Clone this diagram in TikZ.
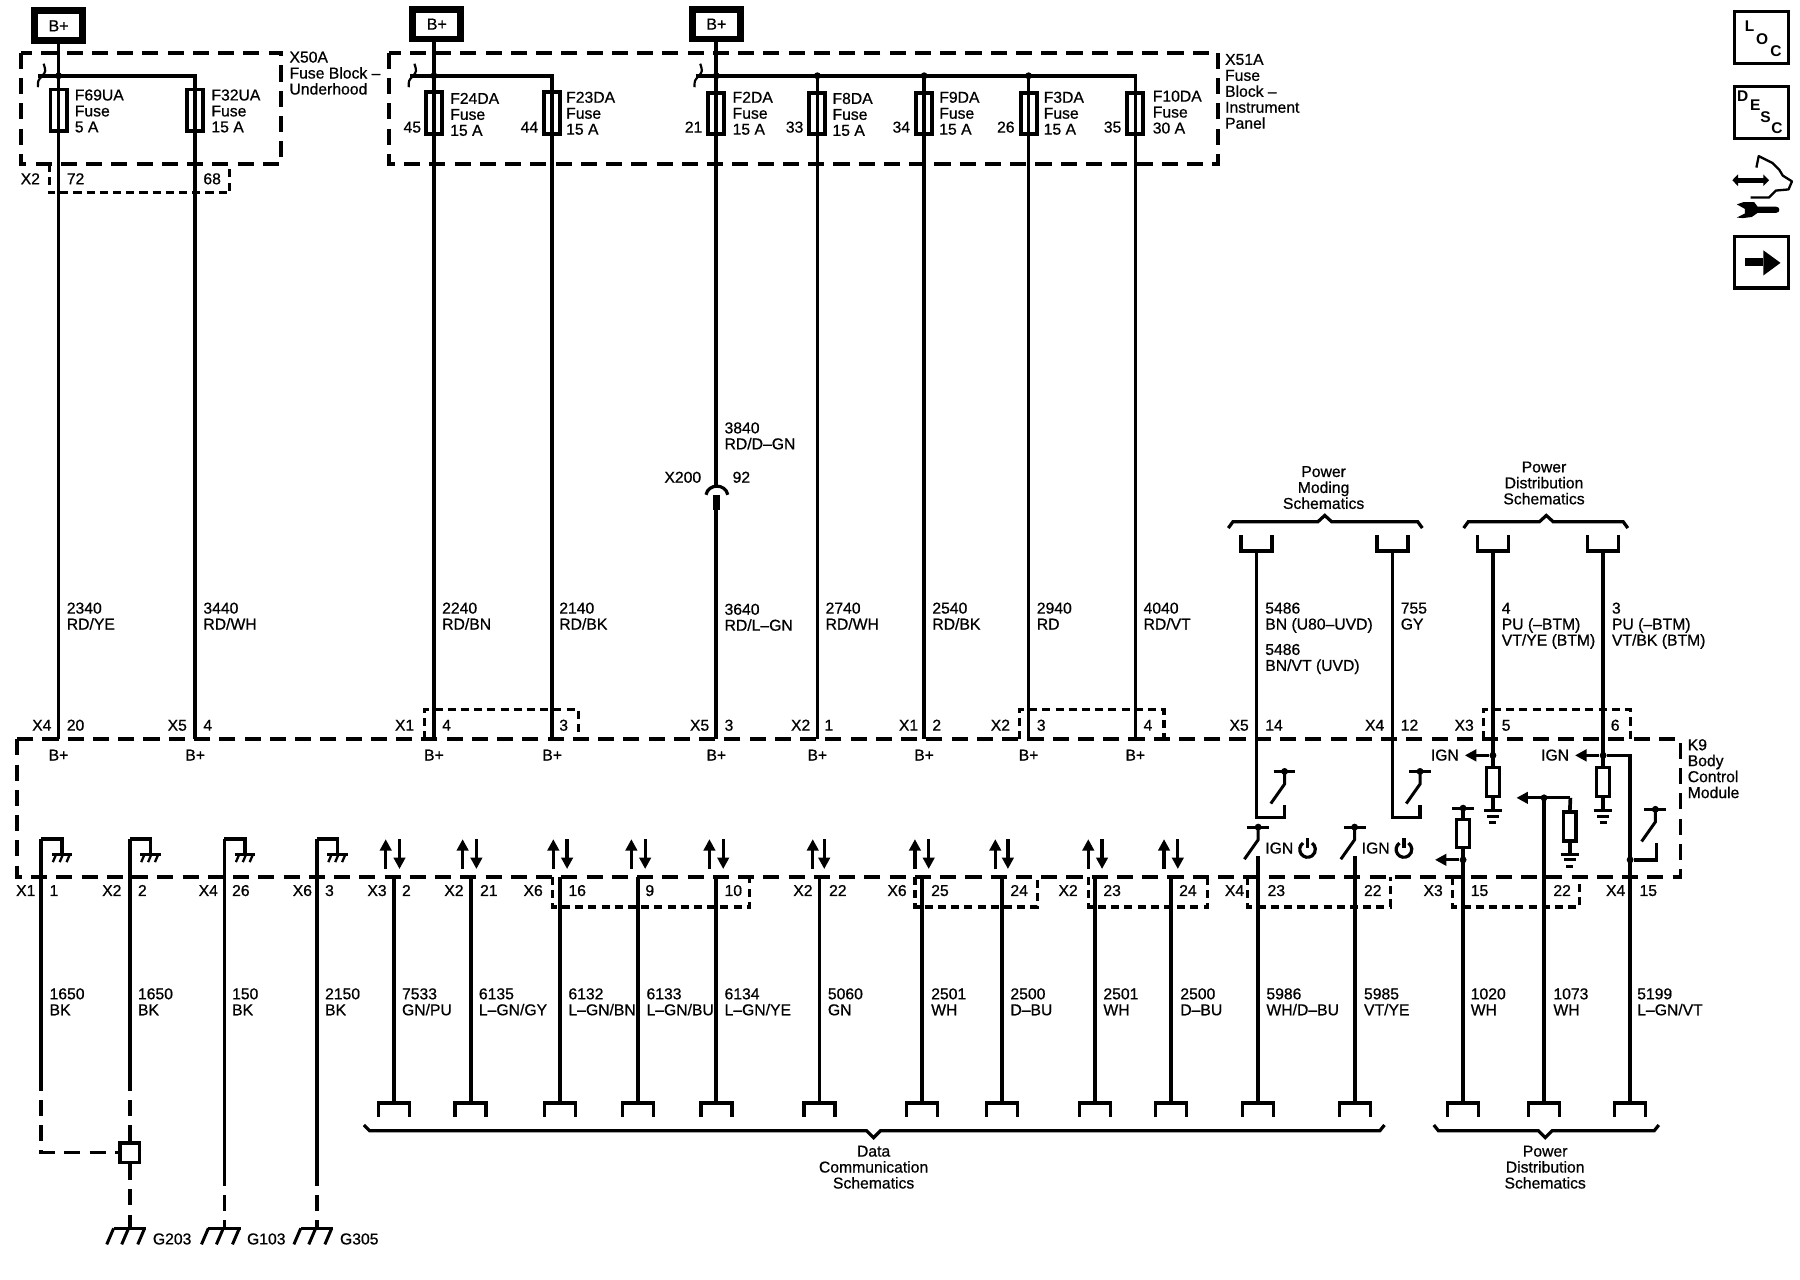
\documentclass[tikz,border=0pt]{standalone}
\usepackage{fontspec}
\setmainfont{Liberation Sans}
\newfontfamily\lblfont[FakeBold=0.7]{Liberation Sans}
\usetikzlibrary{arrows.meta}
\newcount\tcnt
\tikzset{
  wire/.style={line width=3.2pt,line join=miter},
  fblock/.style={line width=3.2pt,dash pattern=on 14pt off 8pt},
  gdash/.style={line width=3.2pt,dash pattern=on 14pt off 8pt},
  conn/.style={line width=2.8pt,dash pattern=on 7pt off 4.5pt},
  tl/.style={anchor=north west},
  tr/.style={anchor=north east},
  tc/.style={anchor=north},
  lab/.style={inner sep=0pt,font=\lblfont\fontsize{13.7}{13.9}\selectfont,align=left},
  labc/.style={inner sep=0pt,font=\lblfont\fontsize{13.7}{13.9}\selectfont,align=center},
  bpbox/.style={draw,line width=6pt,minimum width=42pt,minimum height=26pt,inner sep=0pt,font=\lblfont\fontsize{14}{14}\selectfont,fill=white},
  fuse/.style={draw,line width=3.4pt,minimum width=14pt,minimum height=36pt,inner sep=0pt},
  resistor/.style={draw,line width=2.5pt,minimum width=11pt,minimum height=25pt,inner sep=0pt,fill=white},
  dotn/.style={circle,fill=black,inner sep=0pt,minimum size=6pt},
  iconbox/.style={draw,line width=3pt,minimum width=47pt,minimum height=45pt,inner sep=0pt},
  arr/.style={line width=2.8pt,-{Triangle[length=10pt,width=10pt]}},
}
% text helpers: x, y = centre of the first line's capitals
\newcommand\lblL[3]{\global\advance\tcnt by 1\relax\node[lab,tl] (t\the\tcnt) at (#1,#2-5.7) {\rule{0pt}{10pt}#3};}
\newcommand\lblR[3]{\global\advance\tcnt by 1\relax\node[lab,tr] (t\the\tcnt) at (#1,#2-5.7) {\rule{0pt}{10pt}#3};}
\newcommand\lblC[3]{\global\advance\tcnt by 1\relax\node[labc,tc] (t\the\tcnt) at (#1,#2-5.7) {\rule{0pt}{10pt}#3};}
\newcommand\gndhatch[2]{\draw[line width=2.6pt] (#1-9,#2) -- (#1+9,#2);
  \foreach \d in {-7,-1,5}{\draw[line width=2pt] (#1+\d+2,#2) -- (#1+\d-1,#2+7);}}
\newcommand\gndbig[2]{\draw[line width=2.8pt] (#1-14,#2) -- (#1+14,#2);
  \foreach \d in {-14,-1,13}{\draw[line width=2.6pt] (#1+\d,#2) -- (#1+\d-6,#2+14);}}
\newcommand\gndbars[2]{\draw[line width=2.6pt] (#1-8,#2) -- (#1+8,#2);
  \draw[line width=2.6pt] (#1-5,#2+5) -- (#1+5,#2+5);
  \draw[line width=2.6pt] (#1-3,#2+10.5) -- (#1+3,#2+10.5);}
\newcommand\swtch[2]{% bar centre x, bar y
  \draw[line width=2.6pt] (#1-9.5,#2) -- (#1+9.5,#2);
  \node[dotn,minimum size=6pt] at (#1,#2) {};
  \draw[line width=2.6pt] (#1,#2) -- (#1,#2+11) -- (#1-12,#2+28);}
\newcommand\pwr[2]{\draw[line width=2.8pt] (#1-3.9,#2-5.6) arc[start angle=125,end angle=415,radius=6.8pt];
  \draw[line width=2.8pt] (#1,#2-10) -- (#1,#2-1);}
\newcommand\capdown[2]{\draw[line width=3pt] (#1-13.5,#2-14) -- (#1-13.5,#2) -- (#1+13.5,#2) -- (#1+13.5,#2-14);}
\newcommand\capup[2]{\draw[line width=3pt] (#1-13.5,#2+12) -- (#1-13.5,#2) -- (#1+13.5,#2) -- (#1+13.5,#2+12);}
\begin{document}
\begin{tikzpicture}[x=1pt,y=-1pt]
\useasboundingbox (0,0) rectangle (1568,1115);
\fill[white] (0,0) rectangle (1568,1115);

% ---------- fuse blocks ----------
\draw[fblock] (18,46) rectangle (245,143);
\draw[fblock] (339,46) rectangle (1061,143);
\coordinate (bpc1) at (51,22.5); \coordinate (bpc2) at (380.5,21); \coordinate (bpc3) at (624,21);
\node[bpbox] (bp1) at (bpc1) {B+};
\node[bpbox] (bp2) at (bpc2) {B+};
\node[bpbox] (bp3) at (bpc3) {B+};

% wires from supply
\coordinate (w1e) at (51,644); \coordinate (w3e) at (378,644); \coordinate (w5e) at (624,423);
\draw[wire] (bp1.south -| w1e) -- (w1e);
\draw[wire] (bp2.south -| w3e) -- (w3e);
\draw[wire] (bp3.south -| w5e) -- (w5e);
% buses
\coordinate (w2b) at (170,644); \coordinate (w4b) at (481,644);
\coordinate (w6b) at (712,644); \coordinate (w7b) at (805,644); \coordinate (w8b) at (896,644); \coordinate (w9b) at (989,644);
\coordinate (bus1) at (33,66); \coordinate (bus2) at (357,66); \coordinate (bus3) at (606,66);
\draw[wire] (bus1) -- (w2b |- bus1) -- (w2b);
\draw[wire] (bus2) -- (w4b |- bus2) -- (w4b);
\draw[wire] (bus3) -- (w9b |- bus3) -- (w9b);
\draw[wire] (w6b |- bus3) -- (w6b);
\draw[wire] (w7b |- bus3) -- (w7b);
\draw[wire] (w8b |- bus3) -- (w8b);
\foreach \x in {51,378,624,712,805,896}{\node[dotn] at (\x,66) {};}
\foreach \x in {36,359,608}{\draw[line width=1.9pt] (\x+2,55.5) .. controls (\x+4,62) .. (\x+1,66) .. controls (\x-3,70) .. (\x-3,76);}

% fuses
\foreach \x/\y in {51/96,170/96,378/98.5,481/98.5,624/99,712/99,805/99,896/99,989/99}{\node[fuse] (fuse\x) at (\x,\y) {};}
\lblL{65}{83}{F69UA\\Fuse\\5 A}
\lblL{184}{83}{F32UA\\Fuse\\15 A}
\lblL{392}{86}{F24DA\\Fuse\\15 A}
\lblL{493}{85}{F23DA\\Fuse\\15 A}
\lblL{638}{85}{F2DA\\Fuse\\15 A}
\lblL{725}{86}{F8DA\\Fuse\\15 A}
\lblL{818}{85}{F9DA\\Fuse\\15 A}
\lblL{909}{85}{F3DA\\Fuse\\15 A}
\lblL{1004}{84}{F10DA\\Fuse\\30 A}
\foreach \x/\t in {367/45,469/44,612/21,700/33,793/34,884/26,977/35}{\lblR{\x}{111}{\t}}
\lblL{252}{50}{X50A\\Fuse Block –\\Underhood}
\lblL{1067}{52}{X51A\\Fuse\\Block –\\Instrument\\Panel}
% X2 connector under X50A
\draw[conn] (43,143) -- (43,168) -- (200,168) -- (200,143);
\lblR{35}{156}{X2}\lblL{58}{156}{72}\lblL{177}{156}{68}

% X200 inline connector
\draw[line width=2.8pt] (615,431) .. controls (617,421) and (632,421) .. (634,431);
\fill (621.5,431) rectangle (627.5,444);
\coordinate (x200a) at (624,444); \coordinate (x200b) at (624,644);
\draw[wire] (x200a) -- (x200b);
\lblL{631}{373}{3840\\RD/D–GN}
\lblR{611}{416}{X200}\lblL{638}{416}{92}

% wire labels above the module
\lblL{58}{530}{2340\\RD/YE}
\lblL{177}{530}{3440\\RD/WH}
\lblL{385}{530}{2240\\RD/BN}
\lblL{487}{530}{2140\\RD/BK}
\lblL{631}{531}{3640\\RD/L–GN}
\lblL{719}{530}{2740\\RD/WH}
\lblL{812}{530}{2540\\RD/BK}
\lblL{903}{530}{2940\\RD}
\lblL{996}{530}{4040\\RD/VT}
\lblL{1102}{530}{5486\\BN (U80–UVD)}
\lblL{1102}{566}{5486\\BN/VT (UVD)}
\lblL{1220}{530}{755\\GY}
\lblL{1308}{530}{4\\PU (–BTM)\\VT/YE (BTM)}
\lblL{1404}{530}{3\\PU (–BTM)\\VT/BK (BTM)}

% ---------- upper schematics references ----------
\lblC{1153}{411}{Power\\Moding\\Schematics}
\lblC{1345}{407}{Power\\Distribution\\Schematics}
\draw[line width=2.8pt] (1070,460) -- (1074,454.5) -- (1148,454.5) -- (1154,449) -- (1160,454.5) -- (1235,454.5) -- (1239,460);
\draw[line width=2.8pt] (1275,460) -- (1279,454.5) -- (1341,454.5) -- (1347,449) -- (1353,454.5) -- (1414,454.5) -- (1418,460);
\capdown{1094.5}{480}\capdown{1213}{480}\capdown{1300.5}{480}\capdown{1396.5}{480}

% ---------- K9 module ----------
\draw[fblock] (15,644) rectangle (1464,764);
\lblL{1470}{649}{K9\\Body\\Control\\Module}
\draw[conn] (370,644) -- (370,618) -- (504,618) -- (504,644);
\draw[conn] (888,644) -- (888,618) -- (1014,618) -- (1014,644);
\draw[conn] (1292,644) -- (1292,618) -- (1420,618) -- (1420,644);
\draw[conn] (481,764) -- (481,790) -- (653,790) -- (653,764);
\draw[conn] (797,764) -- (797,790) -- (904,790) -- (904,764);
\draw[conn] (948,764) -- (948,790) -- (1052,790) -- (1052,764);
\draw[conn] (1087,764) -- (1087,790) -- (1211,790) -- (1211,764);
\draw[conn] (1265.5,764) -- (1265.5,790) -- (1376,790) -- (1376,764);

% pin labels on top of the module
\foreach \x/\t in {45/X4,163/X5,361/X1,618/X5,706/X2,800/X1,880/X2,1088/X5,1206/X4,1284/X3}{\lblR{\x}{632}{\t}}
\foreach \x/\t in {58/20,177/4,385/4,487/3,631/3,718/1,812/2,903/3,996/4,1102/14,1220/12,1308/5,1403/6}{\lblL{\x}{632}{\t}}
\foreach \x in {51,170,378,481,624,712,805,896,989}{\lblC{\x}{658}{B+}}

% inputs to switches, top
\coordinate (sw1t) at (1094.5,480); \coordinate (sw1e) at (1119,701);
\draw[wire] (sw1t) -- (sw1t |- 0,712) -- (sw1e |- 0,712) -- (sw1e);
\swtch{1119}{672}
\coordinate (sw2t) at (1213,480); \coordinate (sw2e) at (1237,701);
\draw[wire] (sw2t) -- (sw2t |- 0,712) -- (sw2e |- 0,712) -- (sw2e);
\swtch{1237}{672}

% IGN feeds
\coordinate (p4t) at (1300.5,480); \coordinate (p3t) at (1396.5,480);
\node[resistor] (r4) at (1300.5,681) {};
\node[resistor] (r3) at (1396.5,681) {};
\draw[wire] (p4t) -- (r4.north);
\draw[wire] (p3t) -- (r3.north);
\coordinate (g4) at (1300.5,706); \coordinate (g3) at (1396.5,706);
\draw[wire] (r4.south) -- (g4); \draw[wire] (r3.south) -- (g3);
\gndbars{1300.5}{706}\gndbars{1396.5}{706}
\node[dotn] (j4) at (1300.5,658) {}; \node[dotn] (j3) at (1396.5,658) {};
\coordinate (ign4) at (1276,658); \coordinate (ign3) at (1372,658);
\draw[arr] (j4) -- (ign4); \draw[arr] (j3) -- (ign3);
\lblR{1271}{658}{IGN}\lblR{1367}{658}{IGN}

% lower right wires
\coordinate (p5t) at (1420,658); \coordinate (p5b) at (1420,961);
\draw[wire] (j3) -- (p5t) -- (p5b);
\node[dotn] (j5) at (1420,749) {};
\coordinate (sw5e) at (1443,734);
\draw[wire] (j5) -- (sw5e |- j5) -- (sw5e);
\swtch{1442}{705}

\node[resistor] (r1) at (1274.5,726) {};
\coordinate (p1b) at (1274.5,961); \coordinate (p1t) at (1274.5,704);
\draw[wire] (r1.south) -- (p1b); \draw[wire] (r1.north) -- (p1t);
\draw[line width=2.6pt] (1265,704) -- (1284,704);
\node[dotn] at (p1t) {};
\node[dotn] (j1) at (1274.5,749) {};
\coordinate (a1) at (1250,749); \draw[arr] (j1) -- (a1);

\coordinate (p2b) at (1345,961); \coordinate (p2t) at (1345,695);
\draw[wire] (p2b) -- (p2t);
\node[dotn] (j2) at (p2t) {};
\node[resistor,line width=3pt] (r2) at (1367.5,720) {};
\coordinate (a2) at (1321,695); \coordinate (a2r) at (1368,695);
\draw[wire] (r2.north) -- (a2r);
\draw[arr] (a2r) -- (a2);
\draw[wire] (r2.south) -- (1367.5,744);
\gndbars{1367.5}{744}

% lower switches
\swtch{1096}{720.5}\swtch{1180}{720.5}
\lblL{1102}{739}{IGN}\lblL{1186}{739}{IGN}
\pwr{1139}{740}\pwr{1223}{740}

% ground straps inside the module
\foreach \x/\n in {36/g1,113/g2,195.5/g3,276/g4}{
  \coordinate (\n t) at (\x,731); \coordinate (\n c) at (\x+18,731); \coordinate (\n h) at (\x+18,744);
  \draw[wire] (\n t) -- (\n c) -- (\n h);
  \gndhatch{\x+18}{744}
}
\coordinate (g1b) at (36,936); \coordinate (g2b) at (113,936); \coordinate (g3b) at (195.5,1019); \coordinate (g4b) at (276,1019);
\draw[wire] (g1t) -- (g1b); \draw[wire] (g2t) -- (g2b); \draw[wire] (g3t) -- (g3b); \draw[wire] (g4t) -- (g4b);
\node[draw,line width=3pt,minimum size=17pt,inner sep=0pt] (gsq) at (113,1004) {};
\coordinate (g1c) at (36,1004);
\draw[gdash] (g1b) -- (g1c) -- (gsq.west);
\draw[gdash] (g2b) -- (gsq.north);
\coordinate (G203) at (113,1070); \coordinate (G103) at (195.5,1070); \coordinate (G305) at (276,1070);
\draw[gdash] (gsq.south) -- (G203);
\draw[gdash] (g3b) -- (G103);
\draw[gdash] (g4b) -- (G305);
\gndbig{113}{1070}\gndbig{195.5}{1070}\gndbig{276}{1070}
\lblL{133}{1079.5}{G203}\lblL{215}{1079.5}{G103}\lblL{296}{1079.5}{G305}

% data wires with direction arrows
\foreach \x/\u/\d in {343/336/348,410/403/415,488/482/494,556/550/562,624/618/630,714/708/718,803/797/809,873/867/878,954/948/960,1020/1014/1026}{
  \coordinate (dt\x) at (\x,764); \coordinate (db\x) at (\x,961);
  \draw[wire] (dt\x) -- (db\x);
  \capup{\x}{961}
  \coordinate (ua\x) at (\u,757); \coordinate (ub\x) at (\u,731);
  \coordinate (da\x) at (\d,731); \coordinate (db2\x) at (\d,757);
  \draw[arr] (ua\x) -- (ub\x); \draw[arr] (da\x) -- (db2\x);
}
\coordinate (sw3t) at (1096,746); \coordinate (sw3b) at (1096,961);
\coordinate (sw4t) at (1180.5,746); \coordinate (sw4b) at (1180.5,961);
\draw[wire] (sw3t) -- (sw3b); \draw[line width=3.6pt] (sw4t) -- (sw4b);
\capup{1096}{961}\capup{1180.5}{961}\capup{1274.5}{961}\capup{1345}{961}\capup{1420}{961}

% pin labels under the module
\foreach \x/\t in {31/X1,106/X2,190/X4,272/X6,337/X3,404/X2,473/X6,708/X2,790/X6,939/X2,1084/X4,1257/X3,1416/X4}{\lblR{\x}{776}{\t}}
\foreach \x/\t in {43/1,120/2,202/26,283/3,350/2,418/21,495/16,562/9,631/10,722/22,811/25,880/24,961/23,1027/24,1104/23,1188/22,1281/15,1353/22,1428/15}{\lblL{\x}{776}{\t}}

% wire labels under the module
\lblL{43}{866}{1650\\BK}
\lblL{120}{866}{1650\\BK}
\lblL{202}{866}{150\\BK}
\lblL{283}{866}{2150\\BK}
\lblL{350}{866}{7533\\GN/PU}
\lblL{417}{866}{6135\\L–GN/GY}
\lblL{495}{866}{6132\\L–GN/BN}
\lblL{563}{866}{6133\\L–GN/BU}
\lblL{631}{866}{6134\\L–GN/YE}
\lblL{721}{866}{5060\\GN}
\lblL{811}{866}{2501\\WH}
\lblL{880}{866}{2500\\D–BU}
\lblL{961}{866}{2501\\WH}
\lblL{1028}{866}{2500\\D–BU}
\lblL{1103}{866}{5986\\WH/D–BU}
\lblL{1188}{866}{5985\\VT/YE}
\lblL{1281}{866}{1020\\WH}
\lblL{1353}{866}{1073\\WH}
\lblL{1426}{866}{5199\\L–GN/VT}

% lower braces
\draw[line width=2.8pt] (317,980) -- (322,985) -- (755,985) -- (761,991) -- (767,985) -- (1202,985) -- (1206,980);
\draw[line width=2.8pt] (1249,980) -- (1253,985) -- (1340,985) -- (1346,991) -- (1352,985) -- (1441,985) -- (1445,980);
\lblC{761}{1003}{Data\\Communication\\Schematics}
\lblC{1346}{1003}{Power\\Distribution\\Schematics}

% ---------- right-hand icons ----------
\node[iconbox] (loc) at (1534.5,32.6) {};
\node[iconbox] (desc) at (1534.5,98) {};
\node[iconbox] (next) at (1534.5,228.5) {};
\tikzset{iconl/.style={inner sep=0pt,font=\bfseries\fontsize{13.5}{13.5}\selectfont}}
\node[iconl] (l1) at (1524,23) {L};
\node[iconl] (l2) at (1535,34) {O};
\node[iconl] (l3) at (1547,45) {C};
\node[iconl] (d1) at (1518,84) {D};
\node[iconl] (d2) at (1529,92) {E};
\node[iconl] (d3) at (1538,102) {S};
\node[iconl] (d4) at (1548,112) {C};
\fill (1520,225) rectangle (1536,232);
\fill (1536,218) -- (1551,229) -- (1536,240) -- cycle;
% service arrow, hand and wrench
\draw[line width=4pt,{Triangle[length=5pt,width=10pt]}-{Triangle[length=5pt,width=10pt]}] (1509,157) -- (1541,157);
\draw[line width=2pt,line join=round] (1530,146) -- (1532,136) -- (1544,142) -- (1550,148) -- (1553,153) -- (1561,158) -- (1558,165) -- (1547,166) -- (1541,172) -- (1525,172);
\fill (1513,178) -- (1519,176) -- (1528,176) -- (1531,180) -- (1547,180) .. controls (1551,180) and (1551,185.5) .. (1547,185.5) -- (1531,185.5) -- (1526,189) -- (1518,190) -- (1513,189.5) -- (1520,186) -- (1520,182) -- cycle;
\end{tikzpicture}
\end{document}
